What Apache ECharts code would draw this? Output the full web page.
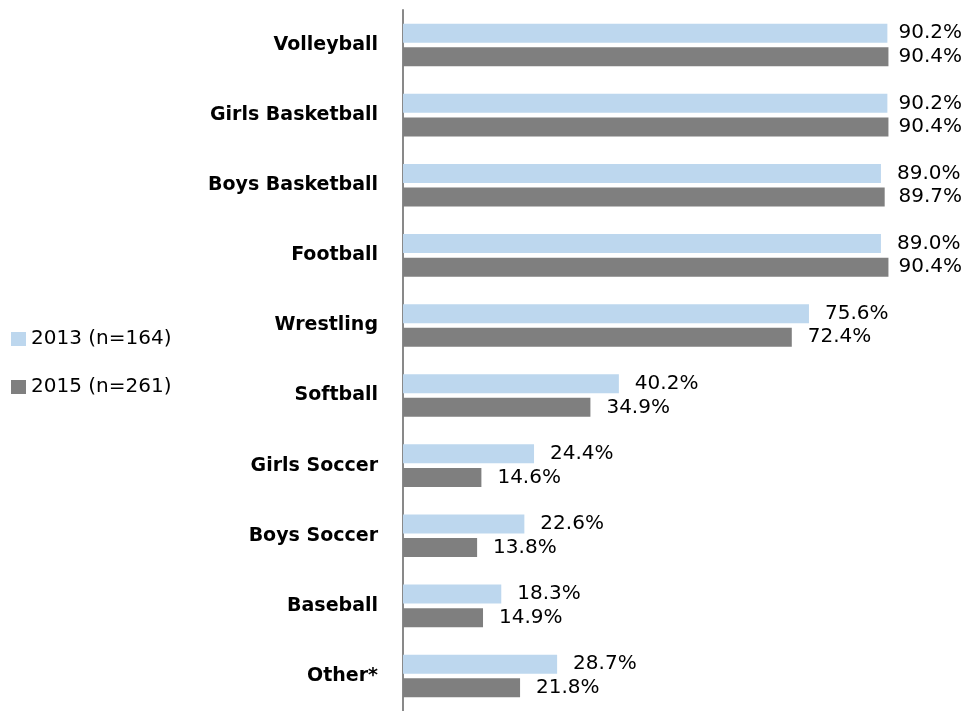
<!DOCTYPE html>
<html>
<head>
  <meta charset="UTF-8">
  <title>Sports</title>
  <script src="https://cdn.jsdelivr.net/npm/echarts@6/dist/echarts.min.js"></script>
  <style>
    html, body { margin: 0; padding: 0; background: #fff; }
    #chart { width: 967px; height: 711px; }
  </style>
</head>
<body>
<div id="chart"></div>
<script>
  var categories = ['Volleyball', 'Girls Basketball', 'Boys Basketball', 'Football', 'Wrestling',
    'Softball', 'Girls Soccer', 'Boys Soccer', 'Baseball', 'Other*'];
  var values2013 = [90.2, 90.2, 89.0, 89.0, 75.6, 40.2, 24.4, 22.6, 18.3, 28.7];
  var values2015 = [90.4, 90.4, 89.7, 90.4, 72.4, 34.9, 14.6, 13.8, 14.9, 21.8];
  var seriesNames = ['2013 (n=164)', '2015 (n=261)'];

  var chart = echarts.init(document.getElementById('chart'));

  // keep labels from running past the right edge
  function keepInside(p) {
    var r = p.labelRect;
    var maxX = 962;
    if (r.x + r.width > maxX) {
      return { dx: maxX - (r.x + r.width) };
    }
    return {};
  }

  var labelStyle = {
    show: true,
    position: 'right',
    distance: 16,
    fontFamily: 'DejaVu Sans',
    fontSize: 20,
    color: '#000',
    formatter: function (p) { return p.value.toFixed(1) + '%'; }
  };

  chart.setOption({
    animation: false,
    legend: {
      orient: 'vertical',
      left: 11,
      top: 329,
      padding: 0,
      itemWidth: 15,
      itemHeight: 14,
      itemGap: 28,
      icon: 'rect',
      textStyle: { fontFamily: 'DejaVu Sans', fontSize: 20, lineHeight: 20, color: '#000' },
      data: seriesNames
    },
    grid: { left: 403, right: 27, top: 10, height: 704 },
    xAxis: {
      type: 'value',
      min: 0,
      max: 100,
      show: false
    },
    yAxis: {
      type: 'category',
      inverse: true,
      data: categories,
      axisLine: { show: true, lineStyle: { color: '#898989', width: 2 } },
      axisTick: { show: false },
      axisLabel: {
        margin: 25,
        fontFamily: 'DejaVu Sans',
        fontWeight: 'bold',
        fontSize: 19,
        color: '#000'
      }
    },
    series: [
      {
        name: seriesNames[0],
        type: 'bar',
        data: values2013,
        barWidth: 19,
        barGap: '24%',
        itemStyle: { color: '#BDD7EE' },
        label: labelStyle,
        labelLayout: keepInside
      },
      {
        name: seriesNames[1],
        type: 'bar',
        data: values2015,
        barWidth: 19,
        barGap: '24%',
        itemStyle: { color: '#7F7F7F' },
        label: labelStyle,
        labelLayout: keepInside
      }
    ]
  });
</script>
</body>
</html>
